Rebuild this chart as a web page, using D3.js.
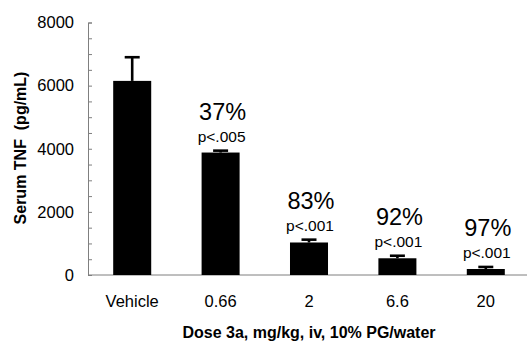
<!DOCTYPE html>
<html lang="en">

<head>
    <meta charset="utf-8">
    <script src="https://d3js.org/d3.v7.min.js"></script>
    <style>
        body {
            margin: 0;
            background: white;
        }

        svg text {
            font-family: Arial, "Liberation Sans", sans-serif;
        }
    </style>
</head>

<body>
    <div id="chart"></div>

    <script>
        // data
        var doses = ["Vehicle", "0.66", "2", "6.6", "20"];
        var tnf = [6150, 3880, 1030, 530, 190];
        var errs = [750, 60, 90, 80, 65];
        var inhibition = ["", "37%", "83%", "92%", "97%"];
        var pvalues = ["", "p<.005", "p<.001", "p<.001", "p<.001"];
        var yTicks = [0, 2000, 4000, 6000, 8000];

        var width = 527, height = 343;
        var margin = { top: 22.5, right: -3, bottom: 68, left: 88 };

        var svg = d3.select("#chart")
            .append("svg")
            .attr("width", width)
            .attr("height", height);

        var x = d3.scaleBand()
            .domain(doses)
            .range([margin.left, width - margin.right])
            .paddingInner(0.57)
            .paddingOuter(0.285);

        var y = d3.scaleLinear()
            .domain([0, 8000])
            .range([height - margin.bottom, margin.top]);

        var axisColor = "#7f7f7f";

        // y axis: minor ticks every 500, labels every 2000
        var yAxis = svg.append("g")
            .attr("transform", "translate(" + margin.left + ",0)")
            .call(d3.axisRight(y).tickValues(d3.range(0, 8001, 500)).tickSize(4).tickFormat(""));
        yAxis.select(".domain").attr("stroke", axisColor);
        yAxis.selectAll(".tick line").attr("stroke", axisColor);

        svg.append("g")
            .selectAll("text")
            .data(yTicks)
            .join("text")
            .attr("x", margin.left - 14)
            .attr("y", function (d) { return y(d); })
            .attr("dy", "0.35em")
            .attr("text-anchor", "end")
            .attr("font-size", 16.5)
            .text(function (d) { return d; });

        // x axis line
        svg.append("line")
            .attr("x1", margin.left)
            .attr("x2", width)
            .attr("y1", y(0))
            .attr("y2", y(0))
            .attr("stroke", axisColor);

        // bars
        svg.append("g")
            .selectAll("rect")
            .data(doses)
            .join("rect")
            .attr("x", function (d) { return x(d); })
            .attr("width", x.bandwidth())
            .attr("y", function (d, i) { return y(tnf[i]); })
            .attr("height", function (d, i) { return y(0) - y(tnf[i]); })
            .attr("fill", "black");

        // error bars
        var eb = svg.append("g").attr("stroke", "black").attr("stroke-width", 2.6);
        eb.selectAll(".stem")
            .data(doses)
            .join("line")
            .attr("x1", function (d) { return x(d) + x.bandwidth() / 2; })
            .attr("x2", function (d) { return x(d) + x.bandwidth() / 2; })
            .attr("y1", function (d, i) { return y(tnf[i]); })
            .attr("y2", function (d, i) { return y(tnf[i] + errs[i]); });
        eb.selectAll(".cap")
            .data(doses)
            .join("line")
            .attr("x1", function (d) { return x(d) + x.bandwidth() / 2 - 7.5; })
            .attr("x2", function (d) { return x(d) + x.bandwidth() / 2 + 7.5; })
            .attr("y1", function (d, i) { return y(tnf[i] + errs[i]); })
            .attr("y2", function (d, i) { return y(tnf[i] + errs[i]); });

        // percent inhibition and p-values
        svg.append("g")
            .selectAll("text")
            .data(doses)
            .join("text")
            .attr("x", function (d) { return x(d) + x.bandwidth() / 2 + 2; })
            .attr("y", function (d, i) { return y(tnf[i] + errs[i]) - 31; })
            .attr("text-anchor", "middle")
            .attr("font-size", 23.5)
            .text(function (d, i) { return inhibition[i]; });

        svg.append("g")
            .selectAll("text")
            .data(doses)
            .join("text")
            .attr("x", function (d) { return x(d) + x.bandwidth() / 2 + 1; })
            .attr("y", function (d, i) { return y(tnf[i] + errs[i]) - 9; })
            .attr("text-anchor", "middle")
            .attr("font-size", 15.5)
            .text(function (d, i) { return pvalues[i]; });

        // x tick labels
        svg.append("g")
            .selectAll("text")
            .data(doses)
            .join("text")
            .attr("x", function (d) { return x(d) + x.bandwidth() / 2; })
            .attr("y", 307)
            .attr("text-anchor", "middle")
            .attr("font-size", 16.5)
            .text(function (d) { return d; });

        // axis titles
        svg.append("text")
            .attr("x", 309)
            .attr("y", 338)
            .attr("text-anchor", "middle")
            .attr("font-size", 16)
            .attr("font-weight", "bold")
            .text("Dose 3a, mg/kg, iv, 10% PG/water");

        svg.append("text")
            .attr("transform", "translate(26,148) rotate(-90)")
            .attr("text-anchor", "middle")
            .attr("font-size", 16)
            .attr("font-weight", "bold")
            .style("white-space", "pre")
            .text("Serum TNF  (pg/mL)");
    </script>
</body>

</html>
